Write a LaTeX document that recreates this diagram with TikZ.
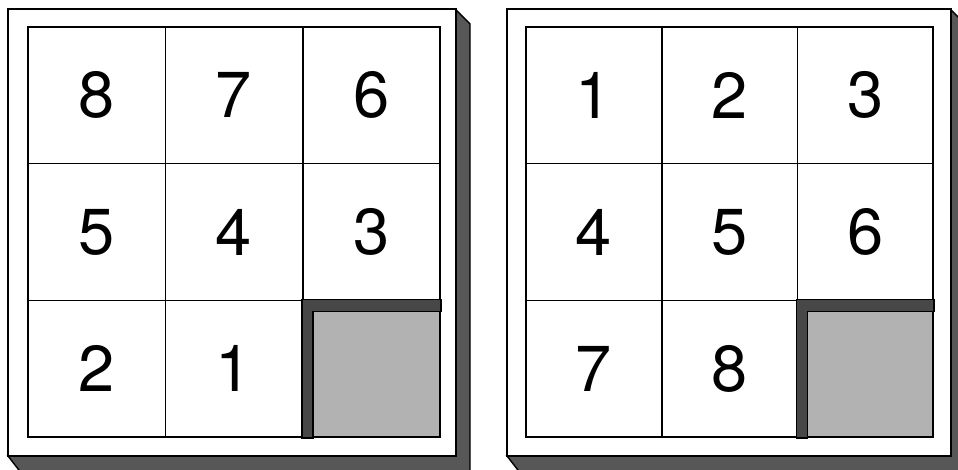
\documentclass[tikz,border=0pt]{standalone}
\usepackage{fontspec}
\setmainfont{TeX Gyre Heros}
\usetikzlibrary{calc}

\tikzset{
  frame/.style={draw=black,line width=1.8pt,fill=white},
  shadow/.style={draw=black,line width=1.4pt,fill=black!66},
  tile/.style={draw=black,line width=1.7pt,fill=white,minimum width=137.3pt,minimum height=136.7pt,inner sep=0pt,font=\fontsize{65}{65}\selectfont},
  rtile/.style={tile,minimum width=135.7pt},
  hole/.style={tile,fill=black!30},
  bevel/.style={draw=black,line width=1.4pt,fill=black!72}
}

\begin{document}
\begin{tikzpicture}[x=1pt,y=-1pt]
\useasboundingbox (0,0) rectangle (958,470);
\clip (0,0) rectangle (958,470);
\fill[white] (0,0) rectangle (958,470);
\draw[shadow] (456,10) -- (470,24) -- (470,474) -- (22,474) -- (8,456) -- (456,456) -- cycle;
\draw[frame] (8,9) rectangle (456,456);
\node[tile] (l11) at (96.7,95.3) {8};
\node[tile] (l12) at (234.0,95.3) {7};
\node[tile] (l13) at (371.3,95.3) {6};
\node[tile] (l21) at (96.7,232.0) {5};
\node[tile] (l22) at (234.0,232.0) {4};
\node[tile] (l23) at (371.3,232.0) {3};
\node[tile] (l31) at (96.7,368.7) {2};
\node[tile] (l32) at (234.0,368.7) {1};
\node[hole] (lhole) at (371.3,368.7) {};
\draw[bevel] (lhole.north west) -- (lhole.north east) -- ($(lhole.north east)+(0,12)$) -- ($(lhole.north west)+(11,12)$) -- ($(lhole.south west)+(11,0)$) -- (lhole.south west) -- cycle;
\draw[shadow] (951,10) -- (965,24) -- (965,474) -- (521,474) -- (507,456) -- (951,456) -- cycle;
\draw[frame] (507,9) rectangle (951,456);
\node[rtile] (r11) at (593.8,95.3) {1};
\node[rtile] (r12) at (729.5,95.3) {2};
\node[rtile] (r13) at (865.2,95.3) {3};
\node[rtile] (r21) at (593.8,232.0) {4};
\node[rtile] (r22) at (729.5,232.0) {5};
\node[rtile] (r23) at (865.2,232.0) {6};
\node[rtile] (r31) at (593.8,368.7) {7};
\node[rtile] (r32) at (729.5,368.7) {8};
\node[hole,minimum width=135.7pt] (rhole) at (865.2,368.7) {};
\draw[bevel] (rhole.north west) -- (rhole.north east) -- ($(rhole.north east)+(0,12)$) -- ($(rhole.north west)+(11,12)$) -- ($(rhole.south west)+(11,0)$) -- (rhole.south west) -- cycle;
\end{tikzpicture}
\end{document}
